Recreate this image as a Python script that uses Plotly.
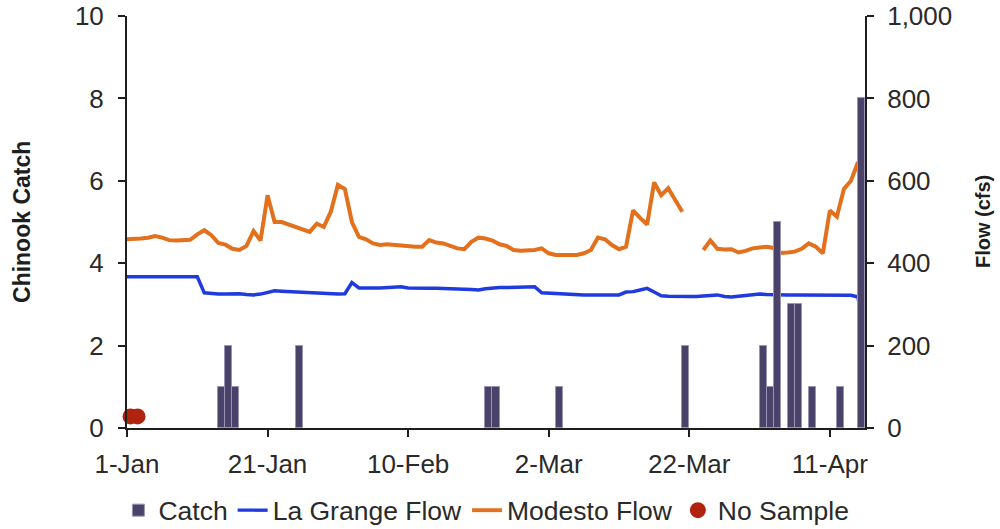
import pandas as pd
import plotly.graph_objects as go

# ---------------- data ----------------
catch_dates = ["2013-01-14", "2013-01-15", "2013-01-16", "2013-01-25", "2013-02-21",
               "2013-02-22", "2013-03-03", "2013-03-21", "2013-04-01", "2013-04-02",
               "2013-04-03", "2013-04-05", "2013-04-06", "2013-04-08", "2013-04-12",
               "2013-04-15"]
catch_values = [1, 2, 1, 2, 1, 1, 1, 2, 2, 1, 5, 3, 3, 1, 1, 8]

flow_dates = pd.date_range("2013-01-01", "2013-04-16", freq="D")

la_grange_flow = [
    367, 367, 367, 367, 367, 367, 367, 367, 367, 367, 367, 328, 326, 325, 325, 326,
    326, 324, 323, 325, 330, 333, 332, 331, 330, 328, 327, 326, 326, 325, 325, 326,
    353, 340, 339, 340, 340, 341, 342, 343, 340, 339, 339, 339, 339, 339, 338, 338,
    337, 336, 335, 338, 340, 341, 341, 342, 342, 343, 343, 328, 327, 326, 326, 326,
    325, 323, 323, 323, 323, 323, 323, 330, 331, 335, 339, 330, 321, 320, 319, 319,
    319, 319, 320, 321, 323, 319, 318, 320, 322, 323, 325, 324, 323, 323, 323, 323,
    323, 323, 322, 323, 323, 323, 323, 322, 318, 205]

modesto_flow = [
    458, 458, 460, 462, 466, 462, 456, 455, 455, 457, 470, 480, 468, 449, 445, 435,
    432, 442, 478, 455, 565, 500, 500, 494, 489, 482, 476, 496, 488, 525, 590, 580,
    500, 464, 458, 448, 444, 446, 444, 442, 441, 440, 440, 456, 450, 448, 442, 436,
    434, 452, 462, 460, 455, 446, 442, 432, 430, 430, 432, 436, 424, 420, 420, 420,
    420, 424, 432, 462, 458, 444, 434, 440, 528, 510, 494, 596, 565, 582, 555, 525,
    None, None, 432, 455, 435, 433, 434, 426, 430, 436, 438, 440, 437, 425, 426, 428,
    435, 448, 440, 424, 528, 513, 580, 600, 645, 470]

no_sample_dates = ["2013-01-01", "2013-01-02"]
no_sample_values = [0.28, 0.28]

x_tick_dates = ["2013-01-01", "2013-01-21", "2013-02-10", "2013-03-02", "2013-03-22", "2013-04-11"]
x_tick_labels = ["1-Jan", "21-Jan", "10-Feb", "2-Mar", "22-Mar", "11-Apr"]

catch_ticks = [0, 2, 4, 6, 8, 10]
flow_ticks = [0, 200, 400, 600, 800, 1000]

left_title = "Chinook Catch"
right_title = "Flow (cfs)"

# ---------------- figure ----------------
DAY_MS = 86400000
FONT = "Liberation Sans, Arial, sans-serif"
AX = "#1e1e1e"
TXT = "#2a2a2a"

fig = go.Figure()

fig.add_trace(go.Scatter(
    x=flow_dates, y=la_grange_flow, name="La Grange Flow", mode="lines",
    line=dict(color="#1f3be0", width=3.5), yaxis="y", legendrank=2,
))
fig.add_trace(go.Scatter(
    x=flow_dates, y=modesto_flow, name="Modesto Flow", mode="lines",
    line=dict(color="#e2701c", width=4), yaxis="y", legendrank=3, connectgaps=False,
))
fig.add_trace(go.Bar(
    x=catch_dates, y=catch_values, name="Catch", yaxis="y2",
    xperiod=DAY_MS, xperiodalignment="middle", width=DAY_MS,
    marker=dict(color="#4a4268", line=dict(color="#9a94b4", width=1)),
    legendrank=1,
))
fig.add_trace(go.Scatter(
    x=no_sample_dates, y=no_sample_values, name="No Sample", mode="markers",
    xperiod=DAY_MS, xperiodalignment="middle",
    marker=dict(color="#b0240f", size=16, line=dict(width=0)),
    yaxis="y2", cliponaxis=False, legendrank=4,
))

fig.update_layout(
    width=1000, height=529,
    margin=dict(l=127, r=135, t=16, b=101, autoexpand=False),
    paper_bgcolor="white", plot_bgcolor="white",
    font=dict(family=FONT, color=TXT, size=26),
    bargap=0,
    showlegend=True,
    legend=dict(
        orientation="h", x=0.487, xanchor="center", y=-0.2, yanchor="middle",
        font=dict(size=26.5, color=TXT), traceorder="normal",
        itemwidth=30, tracegroupgap=0,
    ),
    xaxis=dict(
        type="date", range=["2013-01-01", "2013-04-16"], automargin=False,
        tickmode="array", tickvals=x_tick_dates, ticktext=x_tick_labels,
        showgrid=False, zeroline=False, showline=True, linecolor=AX, linewidth=2,
        ticks="outside", ticklen=7, tickwidth=2, tickcolor=AX,
        tickfont=dict(size=26), ticklabelstandoff=5, ticklabeloverflow="allow",
    ),
    yaxis=dict(
        range=[0, 1000], side="right", tickvals=flow_ticks, tickformat=",",
        automargin=False, ticklabeloverflow="allow",
        showgrid=False, zeroline=False, showline=True, linecolor=AX, linewidth=2,
        ticks="outside", ticklen=7, tickwidth=2, tickcolor=AX,
        tickfont=dict(size=26), ticklabelstandoff=8,
    ),
    yaxis2=dict(
        range=[0, 10], side="left", overlaying="y", tickvals=catch_ticks,
        automargin=False, ticklabeloverflow="allow",
        showgrid=False, zeroline=False, showline=True, linecolor=AX, linewidth=2,
        ticks="outside", ticklen=7, tickwidth=2, tickcolor=AX,
        tickfont=dict(size=26), ticklabelstandoff=9,
    ),
    annotations=[
        dict(text="<b>" + left_title + "</b>", xref="paper", yref="paper",
             x=-0.1423, y=0.5, xanchor="center", yanchor="middle", textangle=-90,
             showarrow=False, font=dict(size=23, color="#1e1e1e")),
        dict(text="<b>" + right_title + "</b>", xref="paper", yref="paper",
             x=1.16, y=0.5, xanchor="center", yanchor="middle", textangle=-90,
             showarrow=False, font=dict(size=20, color="#1e1e1e")),
    ],
)

fig.write_html("out.html", config={"displayModeBar": False},
               post_script="document.body.style.margin='0px';")
